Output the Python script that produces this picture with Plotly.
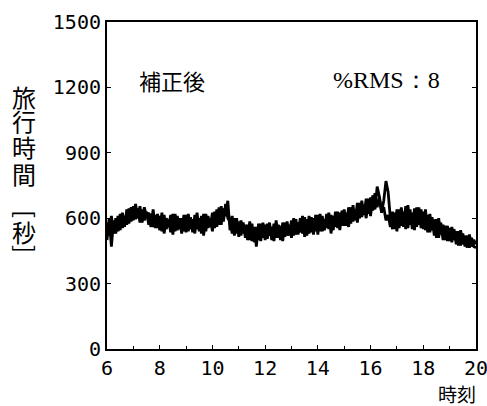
import numpy as np
import plotly.graph_objects as go

# time grid: 5-minute steps from 6:00 to 20:00
hours = np.round(np.arange(6 * 60, 20 * 60 + 1, 5) / 60.0, 4)

measured = [
    500, 600, 470, 590, 530, 610, 545, 625, 560, 640, 575, 650,
    590, 665, 600, 655, 580, 650, 605, 625, 560, 640, 555, 620,
    545, 625, 530, 600, 560, 615, 525, 620, 545, 600, 530, 615,
    535, 620, 550, 595, 530, 625, 540, 610, 520, 620, 555, 600,
    540, 630, 560, 650, 570, 645, 610, 680, 545, 610, 520, 600,
    515, 590, 530, 570, 500, 585, 495, 560, 470, 575, 495, 580,
    500, 575, 520, 560, 495, 590, 510, 565, 495, 580, 520, 570,
    510, 600, 525, 580, 535, 610, 515, 595, 530, 605, 525, 615,
    525, 620, 540, 595, 555, 625, 530, 610, 560, 630, 545, 635,
    565, 625, 560, 650, 585, 640, 580, 670, 605, 660, 600, 690,
    610, 705, 640, 745, 700, 625, 680, 770, 720, 600, 550, 625,
    540, 640, 565, 630, 550, 660, 570, 625, 545, 650, 570, 640,
    550, 640, 535, 620, 545, 595, 510, 600, 525, 570, 500, 565,
    495, 560, 500, 540, 475, 545, 480, 520, 465, 525, 470, 500,
    480,
]

corrected = [
    580, 520, 610, 530, 600, 540, 620, 555, 610, 570, 645, 585,
    655, 595, 645, 580, 640, 590, 630, 570, 620, 560, 615, 555,
    610, 540, 615, 550, 595, 535, 620, 540, 610, 550, 600, 540,
    615, 540, 605, 535, 615, 550, 600, 530, 620, 540, 610, 560,
    625, 555, 640, 570, 655, 585, 665, 600, 585, 530, 600, 530,
    585, 520, 580, 510, 570, 500, 575, 490, 560, 500, 575, 510,
    570, 505, 580, 500, 575, 510, 570, 500, 580, 515, 585, 520,
    590, 520, 595, 525, 600, 530, 605, 520, 610, 535, 600, 540,
    615, 540, 610, 545, 620, 550, 615, 545, 630, 555, 625, 565,
    640, 565, 650, 575, 660, 590, 670, 600, 680, 615, 690, 620,
    695, 635, 715, 650, 695, 630, 650, 590, 615, 560, 630, 550,
    640, 555, 650, 560, 655, 555, 640, 550, 645, 560, 650, 555,
    630, 545, 615, 535, 605, 520, 595, 510, 580, 500, 565, 495,
    555, 490, 550, 480, 540, 475, 530, 470, 520, 465, 510, 470,
    465,
]

x_ticks = [6, 8, 10, 12, 14, 16, 18, 20]
y_ticks = [0, 300, 600, 900, 1200, 1500]

fig = go.Figure()
fig.add_trace(go.Scatter(x=hours, y=corrected, mode="lines",
                         line=dict(color="black", width=2.8), showlegend=False))
fig.add_trace(go.Scatter(x=hours, y=measured, mode="lines",
                         line=dict(color="black", width=2.8), showlegend=False))

tickfont = dict(family="DejaVu Sans Mono", size=20, color="black")
fig.update_layout(
    width=487, height=406,
    margin=dict(l=107, r=11, t=22, b=57, autoexpand=False),
    paper_bgcolor="white", plot_bgcolor="white",
    xaxis=dict(range=[6, 20], tickvals=x_ticks, ticks="inside", ticklen=4,
               tickcolor="black", showline=True, linecolor="black", linewidth=2,
               mirror=True, showgrid=False, zeroline=False, tickfont=tickfont,
               automargin=False, ticklabeloverflow="allow",
               minor=dict(dtick=1, ticks="inside", ticklen=3, tickcolor="black")),
    yaxis=dict(range=[0, 1500], tickvals=y_ticks, ticks="inside", ticklen=4,
               tickcolor="black", showline=True, linecolor="black", linewidth=2,
               mirror="ticks", showgrid=False, zeroline=False, tickfont=tickfont,
               automargin=False, ticklabeloverflow="allow"),
)

pw = 487 - 107 - 11
ph = 406 - 22 - 57
def px(xp):
    return (xp - 107) / pw
def py(yp):
    return (406 - 57 - yp) / ph

fig.add_annotation(text="補正後", x=px(137), y=py(80), xref="paper", yref="paper",
                   showarrow=False, xanchor="left", yanchor="middle",
                   font=dict(family="Noto Sans CJK JP", size=22, color="black"))
fig.add_annotation(text="%RMS：8", x=px(331), y=py(80), xref="paper", yref="paper",
                   showarrow=False, xanchor="left", yanchor="middle",
                   font=dict(family="Liberation Serif", size=24, color="black"))
fig.add_annotation(text="時刻", x=px(478), y=py(393), xref="paper", yref="paper",
                   showarrow=False, xanchor="right", yanchor="middle",
                   font=dict(family="Noto Sans CJK JP", size=19, color="black"))

title_chars = ["旅", "行", "時", "間", "秒"]
title_y = [97, 121, 146, 173, 231]
for ch, yy in zip(title_chars, title_y):
    fig.add_annotation(text=ch, x=px(24), y=py(yy), xref="paper", yref="paper",
                       showarrow=False, xanchor="center", yanchor="middle",
                       font=dict(family="Noto Sans CJK JP", size=24, color="black"))
for ch, yy in zip(["[", "]"], [214, 249]):
    fig.add_annotation(text=ch, x=px(27), y=py(yy), xref="paper", yref="paper",
                       showarrow=False, xanchor="center", yanchor="middle",
                       textangle=90,
                       font=dict(family="Noto Sans CJK JP", size=24, color="black"))

fig.write_html("out.html")
